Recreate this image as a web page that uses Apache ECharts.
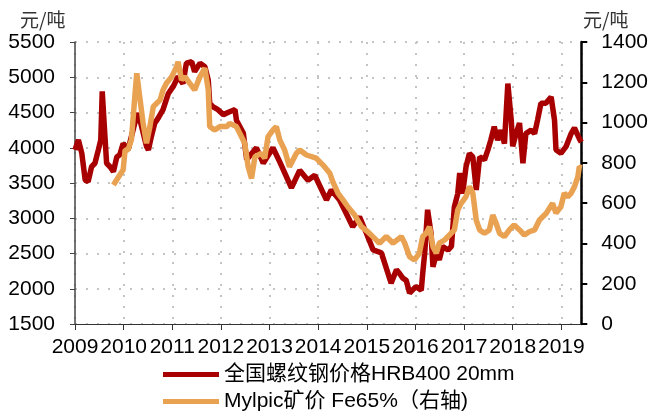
<!DOCTYPE html>
<html>
<head>
<meta charset="utf-8">
<title>螺纹钢价格与矿价</title>
<script src="https://cdn.jsdelivr.net/npm/echarts@6/dist/echarts.min.js"></script>
<style>
    html, body { margin: 0; padding: 0; background: #fff; }
    #chart { width: 651px; height: 412px; }
</style>
</head>
<body>
<div id="chart"></div>
<script>
    // 图例名称
    var seriesNames = ['全国螺纹钢价格HRB400 20mm', 'Mylpic矿价 Fe65%（右轴)'];

    // 全国螺纹钢价格 (元/吨, 左轴) —— 时间(年) / 价格
    var rebarDates = [
        2009.00, 2009.07, 2009.14, 2009.21, 2009.27, 2009.34, 2009.41, 2009.48, 2009.53, 2009.56,
        2009.62, 2009.65, 2009.72, 2009.79, 2009.86, 2009.92, 2009.99, 2010.09, 2010.16, 2010.23,
        2010.30, 2010.37, 2010.47, 2010.51, 2010.57, 2010.64, 2010.71, 2010.81, 2010.92, 2011.02,
        2011.12, 2011.22, 2011.29, 2011.40, 2011.46, 2011.57, 2011.67, 2011.74, 2011.77, 2011.84,
        2011.94, 2012.05, 2012.18, 2012.29, 2012.32, 2012.46, 2012.53, 2012.73, 2012.87, 2013.07,
        2013.21, 2013.45, 2013.62, 2013.79, 2013.93, 2014.17, 2014.27, 2014.44, 2014.54, 2014.71,
        2014.85, 2014.99, 2015.13, 2015.30, 2015.50, 2015.61, 2015.67, 2015.74, 2015.81, 2015.88,
        2015.91, 2016.01, 2016.12, 2016.15, 2016.19, 2016.25, 2016.32, 2016.36, 2016.43, 2016.49,
        2016.56, 2016.67, 2016.74, 2016.80, 2016.87, 2016.91, 2016.97, 2017.04, 2017.11, 2017.18,
        2017.25, 2017.32, 2017.42, 2017.49, 2017.55, 2017.62, 2017.69, 2017.76, 2017.83, 2017.90,
        2017.97, 2018.00, 2018.07, 2018.14, 2018.21, 2018.27, 2018.38, 2018.45, 2018.51, 2018.58,
        2018.68, 2018.79, 2018.86, 2018.89, 2018.99, 2019.10, 2019.20, 2019.27, 2019.37, 2019.41
    ];
    var rebarValues = [
        3970, 4110, 3920, 3540, 3520, 3730, 3780, 3970, 4110, 4800,
        4110, 3780, 3730, 3660, 3870, 3900, 4060, 3970, 4160, 4350,
        4490, 4300, 4020, 3970, 4160, 4350, 4420, 4540, 4770, 4870,
        5010, 4910, 5200, 5220, 5080, 5200, 5150, 4960, 4630, 4580,
        4540, 4470, 4510, 4540, 4390, 4210, 3830, 4000, 3780, 4000,
        3800, 3430, 3680, 3540, 3610, 3260, 3400, 3260, 3120, 2880,
        3020, 2790, 2550, 2510, 2080, 2270, 2220, 2150, 2120, 1940,
        1935, 2030, 1980, 2220, 2500, 3120, 2790, 2310, 2500, 2410,
        2600, 2550, 2600, 3160, 3350, 3640, 3350, 3730, 3920, 3870,
        3400, 3870, 3830, 3970, 4110, 4300, 4110, 4250, 4060, 4910,
        4390, 4020, 4200, 4350, 3780, 4200, 4250, 4200, 4390, 4630,
        4630, 4720, 4390, 3970, 3920, 4020, 4200, 4280, 4130, 4080
    ];

    // Mylpic矿价 Fe65% (元/吨, 右轴)
    var oreDates = [
        2009.79, 2009.92, 2009.99, 2010.03, 2010.09, 2010.16, 2010.23, 2010.27, 2010.33, 2010.40,
        2010.47, 2010.54, 2010.61, 2010.68, 2010.75, 2010.81, 2010.88, 2010.99, 2011.09, 2011.12,
        2011.19, 2011.26, 2011.36, 2011.46, 2011.57, 2011.67, 2011.74, 2011.77, 2011.87, 2011.98,
        2012.12, 2012.18, 2012.32, 2012.49, 2012.56, 2012.63, 2012.70, 2012.83, 2012.90, 2012.97,
        2013.07, 2013.14, 2013.21, 2013.31, 2013.41, 2013.55, 2013.62, 2013.76, 2013.96, 2014.10,
        2014.24, 2014.30, 2014.41, 2014.51, 2014.61, 2014.75, 2014.89, 2015.02, 2015.16, 2015.26,
        2015.40, 2015.54, 2015.71, 2015.78, 2015.88, 2015.98, 2016.08, 2016.15, 2016.22, 2016.29,
        2016.36, 2016.43, 2016.49, 2016.60, 2016.70, 2016.80, 2016.87, 2016.94, 2017.04, 2017.11,
        2017.18, 2017.25, 2017.32, 2017.42, 2017.52, 2017.59, 2017.66, 2017.73, 2017.83, 2017.93,
        2018.03, 2018.14, 2018.24, 2018.34, 2018.45, 2018.55, 2018.69, 2018.82, 2018.89, 2018.99,
        2019.06, 2019.13, 2019.20, 2019.27, 2019.34, 2019.37, 2019.41
    ];
    var oreValues = [
        690, 740, 765, 864, 864, 914, 1129, 1245, 1129, 997,
        897, 980, 1079, 1096, 1112, 1162, 1195, 1228, 1278, 1302,
        1212, 1228, 1195, 1162, 1228, 1270, 1162, 980, 963, 980,
        980, 996, 980, 897, 781, 723, 831, 847, 823, 930,
        963, 980, 914, 864, 781, 847, 864, 839, 823, 789,
        748, 707, 649, 616, 582, 541, 483, 458, 425, 401,
        434, 401, 434, 401, 334, 318, 351, 434, 450, 483,
        384, 351, 401, 417, 442, 467, 566, 599, 632, 682,
        649, 516, 467, 450, 467, 541, 500, 450, 434, 467,
        492, 467, 442, 458, 467, 516, 550, 599, 550, 582,
        649, 632, 649, 682, 731, 781, 775
    ];

    function zip(xs, ys) {
        return xs.map(function (x, i) { return [x, ys[i]]; });
    }

    var fontNum = 'Liberation Sans, Arial, Noto Sans CJK SC, sans-serif';
    var dotted = { color: '#c4c4c4', width: 2, type: [2, 9] };

    // 图例 (每行一个)
    function legendRow(name, top) {
        return {
            left: 158,
            top: top,
            icon: 'rect',
            itemWidth: 56,
            itemHeight: 5,
            textStyle: { fontSize: 21, color: '#000', fontFamily: fontNum },
            data: [name]
        };
    }

    var myChart = echarts.init(document.getElementById('chart'));
    myChart.setOption({
        animation: false,
        grid: { left: 75, right: 69, top: 42, bottom: 88 },
        graphic: [
            { type: 'text', left: 20, top: 10, style: { text: '元/吨', font: '19px Noto Sans CJK SC', fill: '#333' } },
            { type: 'text', left: 583, top: 10, style: { text: '元/吨', font: '19px Noto Sans CJK SC', fill: '#333' } }
        ],
        legend: [legendRow(seriesNames[0], 359), legendRow(seriesNames[1], 386)],
        xAxis: {
            type: 'value',
            min: 2009,
            max: 2019.41,
            interval: 1,
            axisLine: { lineStyle: { color: '#333', width: 1 } },
            axisTick: { length: 6, lineStyle: { color: '#333' } },
            axisLabel: {
                margin: 13,
                fontSize: 21,
                color: '#000',
                fontFamily: fontNum,
                showMaxLabel: false,
                formatter: function (v) { return Math.abs(v - Math.round(v)) < 1e-6 ? String(Math.round(v)) : ''; }
            },
            splitLine: { show: true, lineStyle: dotted }
        },
        yAxis: [
            {
                type: 'value',
                min: 1500,
                max: 5500,
                interval: 500,
                axisLine: { show: true, lineStyle: { color: '#444', width: 1.5 } },
                axisTick: { show: true, length: 5, lineStyle: { color: '#444' } },
                axisLabel: { margin: 20, fontSize: 21, color: '#000', fontFamily: fontNum, formatter: function (v) { return String(v); } },
                splitLine: { show: true, lineStyle: dotted }
            },
            {
                type: 'value',
                min: 0,
                max: 1400,
                interval: 200,
                position: 'right',
                axisLine: { show: true, lineStyle: { color: '#000', width: 2.5 } },
                axisTick: { show: true, length: 6, lineStyle: { color: '#000', width: 2 } },
                axisLabel: { margin: 20, fontSize: 21, color: '#000', fontFamily: fontNum, formatter: function (v) { return String(v); } },
                splitLine: { show: false }
            }
        ],
        series: [
            {
                name: seriesNames[0],
                type: 'line',
                yAxisIndex: 0,
                showSymbol: false,
                lineStyle: { color: '#a80000', width: 5.5 },
                itemStyle: { color: '#a80000' },
                data: zip(rebarDates, rebarValues)
            },
            {
                name: seriesNames[1],
                type: 'line',
                yAxisIndex: 1,
                showSymbol: false,
                lineStyle: { color: '#e9a152', width: 5.5 },
                itemStyle: { color: '#e9a152' },
                data: zip(oreDates, oreValues)
            }
        ]
    });
</script>
</body>
</html>
